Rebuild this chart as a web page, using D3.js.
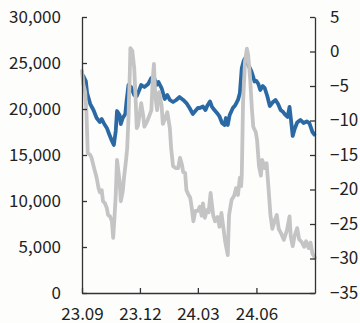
<!DOCTYPE html>
<html>
<head>
<meta charset="utf-8">
<script src="https://cdn.jsdelivr.net/npm/d3@7"></script>
<style>
  html, body { margin: 0; padding: 0; background: #fdfdfc; }
  svg { display: block; }
  text { font-family: "Noto Sans CJK KR", "Noto Sans", sans-serif; fill: #222; }
</style>
</head>
<body>
<svg id="chart" width="360" height="323"></svg>
<script>
// ---- data ----
const xTickLabels = ["23.09", "23.12", "24.03", "24.06"];
const xTickDates = ["2023-09-01", "2023-12-01", "2024-03-01", "2024-06-01"];
const leftTicks = [0, 5000, 10000, 15000, 20000, 25000, 30000];
const rightTicks = [-35, -30, -25, -20, -15, -10, -5, 0, 5];

const blueDates = ["2023-09-03","2023-09-07","2023-09-09","2023-09-14","2023-09-19","2023-09-24","2023-09-29","2023-10-02","2023-10-06","2023-10-10","2023-10-13","2023-10-18","2023-10-21","2023-10-24","2023-10-26","2023-10-30","2023-11-01","2023-11-04","2023-11-08","2023-11-10","2023-11-13","2023-11-17","2023-11-22","2023-11-26","2023-11-30","2023-12-03","2023-12-08","2023-12-14","2023-12-19","2023-12-23","2023-12-27","2023-12-30","2024-01-04","2024-01-09","2024-01-13","2024-01-17","2024-01-22","2024-01-27","2024-02-01","2024-02-07","2024-02-12","2024-02-17","2024-02-22","2024-02-26","2024-03-01","2024-03-04","2024-03-09","2024-03-13","2024-03-16","2024-03-20","2024-03-23","2024-03-27","2024-03-31","2024-04-04","2024-04-08","2024-04-12","2024-04-14","2024-04-17","2024-04-20","2024-04-25","2024-04-29","2024-05-03","2024-05-06","2024-05-09","2024-05-12","2024-05-14","2024-05-17","2024-05-20","2024-05-24","2024-05-27","2024-05-29","2024-06-01","2024-06-04","2024-06-07","2024-06-11","2024-06-14","2024-06-18","2024-06-22","2024-06-27","2024-07-01","2024-07-05","2024-07-09","2024-07-13","2024-07-16","2024-07-20","2024-07-23","2024-07-26","2024-07-28","2024-07-31","2024-08-04","2024-08-09","2024-08-14","2024-08-19","2024-08-23","2024-08-28","2024-08-31"];
const blueValues = [23590,23040,21740,20540,19890,19020,18590,18910,18370,17940,17390,16520,16090,17610,19780,19350,18370,19020,19460,20870,22610,22390,21520,21410,22070,22610,22390,22720,23370,23480,22610,22940,22280,21090,21520,20980,20760,20980,21300,20980,20650,20110,19460,19780,20110,20110,20270,19890,20380,20820,20270,19890,19570,19190,18480,18260,19020,18260,19350,20110,20440,20980,21740,24460,25220,25490,25110,24680,24130,23480,22990,23040,22720,22070,22500,22280,21410,20330,20760,20980,20540,19890,19670,19400,19130,20220,18370,17070,17830,18530,18810,18480,18640,18480,17500,17230];

const grayDates = ["2023-09-01","2023-09-03","2023-09-06","2023-09-08","2023-09-10","2023-09-14","2023-09-16","2023-09-20","2023-09-24","2023-09-27","2023-09-29","2023-10-02","2023-10-04","2023-10-07","2023-10-10","2023-10-12","2023-10-15","2023-10-18","2023-10-20","2023-10-22","2023-10-24","2023-10-26","2023-10-30","2023-11-01","2023-11-04","2023-11-06","2023-11-09","2023-11-11","2023-11-13","2023-11-15","2023-11-16","2023-11-19","2023-11-22","2023-11-24","2023-11-26","2023-11-28","2023-12-01","2023-12-03","2023-12-06","2023-12-08","2023-12-12","2023-12-15","2023-12-19","2023-12-21","2023-12-23","2023-12-25","2023-12-28","2023-12-31","2024-01-04","2024-01-06","2024-01-10","2024-01-13","2024-01-17","2024-01-19","2024-01-22","2024-01-26","2024-01-30","2024-02-02","2024-02-05","2024-02-07","2024-02-10","2024-02-12","2024-02-15","2024-02-18","2024-02-20","2024-02-23","2024-02-26","2024-03-01","2024-03-04","2024-03-07","2024-03-09","2024-03-12","2024-03-15","2024-03-18","2024-03-21","2024-03-25","2024-03-28","2024-04-01","2024-04-04","2024-04-07","2024-04-11","2024-04-13","2024-04-17","2024-04-19","2024-04-23","2024-04-27","2024-04-30","2024-05-03","2024-05-06","2024-05-08","2024-05-09","2024-05-11","2024-05-14","2024-05-17","2024-05-19","2024-05-22","2024-05-25","2024-05-27","2024-05-31","2024-06-02","2024-06-05","2024-06-08","2024-06-10","2024-06-14","2024-06-17","2024-06-20","2024-06-23","2024-06-26","2024-06-30","2024-07-03","2024-07-06","2024-07-10","2024-07-14","2024-07-19","2024-07-23","2024-07-25","2024-07-28","2024-07-31","2024-08-04","2024-08-07","2024-08-11","2024-08-15","2024-08-18","2024-08-22","2024-08-25","2024-08-28","2024-09-01"];
const grayValues = [-2.8,-4.7,-5.9,-8.8,-14.7,-15.0,-15.4,-16.9,-18.3,-19.8,-20.4,-20.1,-21.7,-22.0,-22.7,-23.7,-23.9,-24.6,-27.0,-24.1,-20.8,-15.7,-18.8,-21.7,-20.3,-18.3,-15.9,-14.0,-9.6,-3.4,0.5,0.1,-2.4,-6.3,-11.1,-10.7,-8.8,-7.5,-9.2,-10.9,-10.2,-9.5,-8.5,-4.1,-1.8,-6.3,-8.5,-5.9,-7.8,-10.5,-9.6,-8.8,-11.1,-14.0,-16.6,-16.9,-16.9,-15.4,-16.4,-17.5,-17.6,-20.1,-20.7,-21.2,-22.4,-24.6,-23.1,-23.1,-22.5,-23.8,-22.0,-24.1,-23.0,-23.3,-20.5,-23.7,-24.6,-24.0,-25.4,-23.4,-26.2,-27.6,-29.5,-23.7,-21.5,-20.9,-19.8,-20.8,-18.3,-19.5,-17.9,-7.3,-1.5,0.4,-0.5,-3.8,-8.5,-10.9,-11.7,-12.8,-16.6,-18.0,-15.7,-16.9,-16.2,-19.8,-23.7,-25.7,-24.4,-23.7,-25.7,-26.4,-27.3,-25.9,-23.9,-26.9,-28.2,-26.7,-25.6,-27.2,-27.6,-28.3,-27.5,-28.5,-27.7,-29.3,-29.9];

// ---- chart ----
const parse = d3.timeParse("%Y-%m-%d");
const svg = d3.select("#chart");
const L = 82, R = 315, T = 17, B = 293;

const x = d3.scaleTime().domain([parse("2023-09-01"), parse("2024-09-01")]).range([L, R]);
const yL = d3.scaleLinear().domain([0, 30000]).range([B, T]);
const yR = d3.scaleLinear().domain([-35, 5]).range([B, T]);

const blue = blueDates.map((d, i) => ({ date: parse(d), v: blueValues[i] }));
const gray = grayDates.map((d, i) => ({ date: parse(d), v: grayValues[i] }));

svg.append("path")
  .datum(blue)
  .attr("fill", "none")
  .attr("stroke", "#2b69a5")
  .attr("stroke-width", 3.8)
  .attr("stroke-linejoin", "round")
  .attr("stroke-linecap", "round")
  .attr("d", d3.line().x(d => x(d.date)).y(d => yL(d.v)));

svg.append("path")
  .datum(gray)
  .attr("fill", "none")
  .attr("stroke", "#c4c4c4")
  .attr("stroke-width", 3.8)
  .attr("stroke-linejoin", "round")
  .attr("stroke-linecap", "round")
  .attr("d", d3.line().x(d => x(d.date)).y(d => yR(d.v)));

const axisColor = "#333";
const fontSize = 17;

const gL = svg.append("g").attr("transform", `translate(${L},0)`)
  .call(d3.axisLeft(yL).tickValues(leftTicks).tickFormat(d3.format(",")).tickSize(-5).tickSizeOuter(0).tickPadding(21));
const gR = svg.append("g").attr("transform", `translate(${R},0)`)
  .call(d3.axisRight(yR).tickValues(rightTicks).tickFormat(d3.format("d")).tickSize(-5).tickSizeOuter(0).tickPadding(15));
const gB = svg.append("g").attr("transform", `translate(0,${B})`)
  .call(d3.axisBottom(x).tickValues(xTickDates.map(parse)).tickFormat((d, i) => xTickLabels[i]).tickSize(-5).tickSizeOuter(0).tickPadding(15));

[gL, gR, gB].forEach(g => {
  g.selectAll("path.domain").attr("stroke", axisColor).attr("stroke-width", 1.3);
  g.selectAll(".tick line").attr("stroke", axisColor).attr("stroke-width", 1.3);
  g.selectAll("text").attr("font-size", fontSize).attr("fill", "#222")
    .attr("font-family", "'Noto Sans CJK KR', 'Noto Sans', sans-serif");
});
</script>
</body>
</html>
